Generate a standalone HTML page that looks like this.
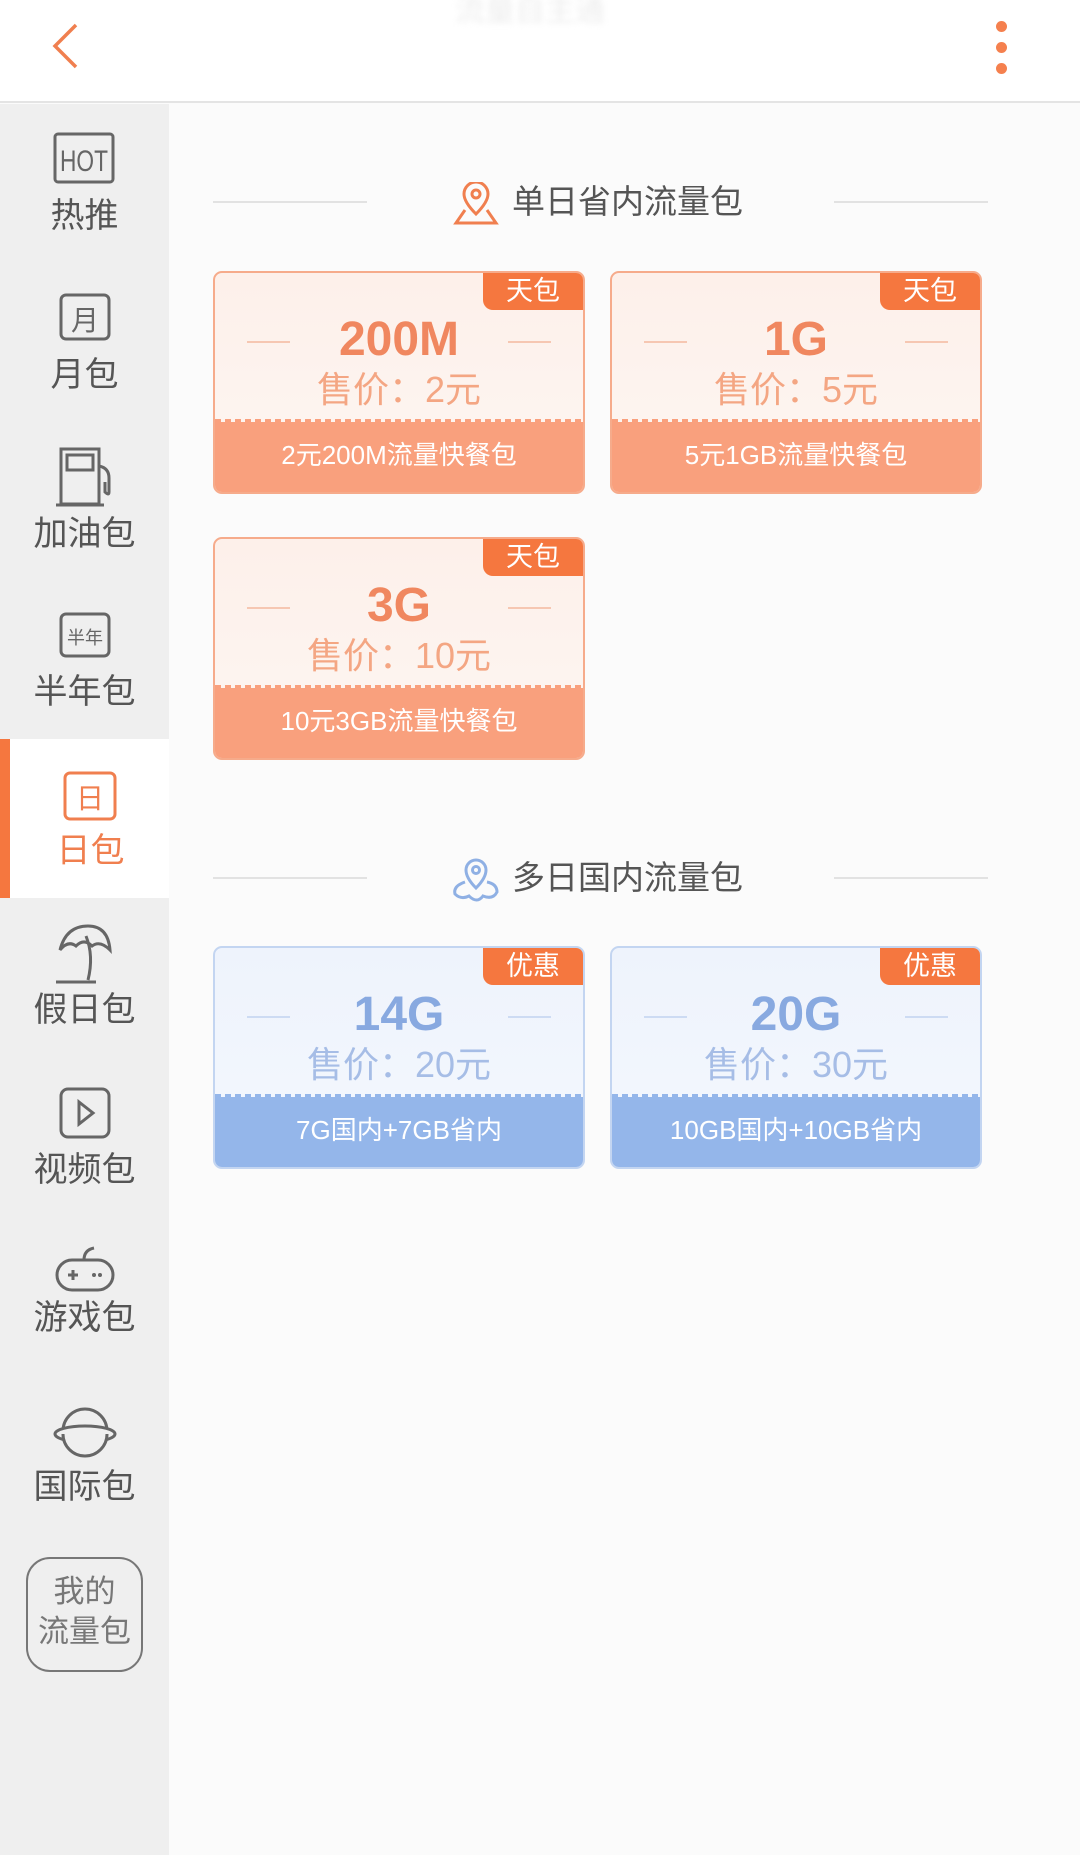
<!DOCTYPE html>
<html><head><meta charset="utf-8"><style>
*{margin:0;padding:0;box-sizing:border-box}
body{width:1080px;height:1855px;position:relative;background:#fbfbfb;font-family:"Liberation Sans","Noto Sans CJK SC",sans-serif;overflow:hidden}
.abs{position:absolute}
.hdr{left:0;top:0;width:1080px;height:103px;background:#fff;border-bottom:2px solid #e4e4e4}
.side{left:0;top:104px;width:169px;height:1751px;background:#efefef}
.lab{position:absolute;left:0;width:169px;text-align:center;font-size:34px;color:#555;line-height:38px}
.ico{position:absolute}
.sec{position:absolute;left:213px;width:775px;height:40px}
.sec .l{position:absolute;top:19px;width:154px;height:2px;background:#e2e2e2}
.sec .t{position:absolute;left:299px;top:0;font-size:33px;color:#555;line-height:40px}
.card{position:absolute;width:372px;height:223px;border-radius:9px;overflow:hidden}
.card .band{position:absolute;left:0;bottom:0;width:100%;height:70px;color:#fff;font-size:26px;text-align:center;line-height:66px}
.card .band:before{content:"";position:absolute;left:0;top:-3px;width:100%;height:4px;background:repeating-linear-gradient(90deg,var(--b) 0 6px,transparent 6px 10px)}
.card .tag{position:absolute;right:0;top:0;width:100px;height:37px;border-bottom-left-radius:10px;color:#fff;font-size:27px;text-align:center;line-height:36px}
.card .big{position:absolute;left:0;width:100%;top:40px;text-align:center;font-size:48px;font-weight:bold;line-height:54px}
.card .pr{position:absolute;left:0;width:100%;top:96px;text-align:center;font-size:36px;line-height:42px}
.card .d{position:absolute;top:68px;width:43px;height:2px}
.o{border:2px solid #f6ab8b;background:linear-gradient(#fdf0ea,#fdf6f2);--b:#f9a07d}
.o .band{background:#f9a07d}.o .tag{background:#f5773f}.o .big{color:#f0875f}.o .pr{color:#f4a683}.o .d{background:#f6c7b2}
.b{border:2px solid #c3d5f1;background:linear-gradient(#eef3fc,#f4f8fe);--b:#94b6ea}
.b .band{background:#94b6ea}.b .tag{background:#f5773f}.b .big{color:#88a9e0}.b .pr{color:#a6bde6}.b .d{background:#cddbf3}
</style></head><body>
<div class="abs hdr"></div>
<div class="abs" style="left:380px;top:-14px;width:300px;text-align:center;font-size:30px;color:#eee;filter:blur(3px)">流量自主通</div>
<svg class="abs" style="left:48px;top:22px" width="34" height="48"><polyline points="28,3 7,24 28,45" fill="none" stroke="#f07f4f" stroke-width="3.5"/></svg>
<div class="abs" style="left:996px;top:21px;width:11px;height:11px;border-radius:50%;background:#f5804e"></div>
<div class="abs" style="left:996px;top:42px;width:11px;height:11px;border-radius:50%;background:#f5804e"></div>
<div class="abs" style="left:996px;top:63px;width:11px;height:11px;border-radius:50%;background:#f5804e"></div>

<div class="abs side"></div>
<div class="abs" style="left:0;top:739px;width:169px;height:159px;background:#fff"></div>
<div class="abs" style="left:0;top:739px;width:10px;height:159px;background:#f5773f"></div>

<svg class="ico" style="left:53px;top:130px" width="64" height="56"><rect x="2" y="4" width="58" height="48" rx="3" fill="none" stroke="#666" stroke-width="3"/><text x="31" y="41" font-size="30" text-anchor="middle" fill="#666" font-family="Liberation Sans Narrow, Liberation Sans" textLength="48" lengthAdjust="spacingAndGlyphs">HOT</text></svg>
<div class="lab" style="top:197px">热推</div>
<svg class="ico" style="left:58px;top:290px" width="54" height="56"><rect x="3" y="5" width="48" height="44" rx="5" fill="none" stroke="#666" stroke-width="3"/><text x="27" y="40" font-size="28" text-anchor="middle" fill="#666">月</text></svg>
<div class="lab" style="top:356px">月包</div>
<svg class="ico" style="left:56px;top:446px" width="60" height="62"><rect x="5" y="3" width="38" height="55" fill="none" stroke="#666" stroke-width="3"/><rect x="11" y="9" width="26" height="15" fill="none" stroke="#666" stroke-width="3"/><path d="M43 20 q10 2 10 12 v14 q0 4 -4 0 v-10" fill="none" stroke="#666" stroke-width="3"/><line x1="0" y1="59" x2="48" y2="59" stroke="#666" stroke-width="3"/></svg>
<div class="lab" style="top:515px">加油包</div>
<svg class="ico" style="left:58px;top:610px" width="54" height="50"><rect x="3" y="4" width="48" height="42" rx="5" fill="none" stroke="#666" stroke-width="3"/><text x="27" y="34" font-size="18" text-anchor="middle" fill="#666">半年</text></svg>
<div class="lab" style="top:673px">半年包</div>
<svg class="ico" style="left:62px;top:768px" width="56" height="56"><rect x="3" y="5" width="50" height="46" rx="5" fill="none" stroke="#f07f4f" stroke-width="3"/><text x="28" y="40" font-size="28" text-anchor="middle" fill="#f07f4f">日</text></svg>
<div class="lab" style="top:832px;left:6px;color:#f07f4f">日包</div>
<svg class="ico" style="left:52px;top:922px" width="64" height="62"><path d="M8 28 q6 -24 28 -24 q20 0 22 24 q-10 -10 -18 -4 q-8 -8 -16 0 q-8 -6 -16 4z" fill="none" stroke="#666" stroke-width="3"/><path d="M34 14 q8 20 2 44" fill="none" stroke="#666" stroke-width="3"/><line x1="4" y1="60" x2="44" y2="60" stroke="#666" stroke-width="3"/></svg>
<div class="lab" style="top:991px">假日包</div>
<svg class="ico" style="left:58px;top:1086px" width="54" height="54"><rect x="3" y="3" width="48" height="48" rx="7" fill="none" stroke="#666" stroke-width="3"/><polygon points="21,16 35,27 21,38" fill="none" stroke="#666" stroke-width="3"/></svg>
<div class="lab" style="top:1151px">视频包</div>
<svg class="ico" style="left:54px;top:1246px" width="62" height="48"><path d="M30 14 q0 -10 10 -12" fill="none" stroke="#666" stroke-width="3"/><rect x="3" y="14" width="56" height="30" rx="15" fill="none" stroke="#666" stroke-width="3"/><path d="M14 29h10M19 24v10" stroke="#666" stroke-width="3"/><circle cx="40" cy="29" r="2" fill="#666"/><circle cx="46" cy="29" r="2" fill="#666"/></svg>
<div class="lab" style="top:1299px">游戏包</div>
<svg class="ico" style="left:52px;top:1404px" width="66" height="54"><circle cx="33" cy="27" r="22" fill="none" stroke="#666" stroke-width="3"/><ellipse cx="33" cy="30" rx="30" ry="8" fill="#efefef" stroke="#666" stroke-width="3"/><path d="M11 30 a22 22 0 0 0 44 0" fill="#efefef" stroke="#666" stroke-width="3"/></svg>
<div class="lab" style="top:1468px">国际包</div>
<div class="abs" style="left:26px;top:1557px;width:117px;height:115px;border:2px solid #777;border-radius:24px"></div>
<div class="lab" style="top:1572px;color:#777;font-size:31px;line-height:40px">我的<br>流量包</div>

<div class="sec" style="top:182px"><div class="l" style="left:0"></div><div class="l" style="left:621px"></div>
<svg style="position:absolute;left:240px;top:0" width="46" height="44"><path d="M23 32 q-12 -12 -12 -20 a12 12 0 0 1 24 0 q0 8 -12 20z" fill="none" stroke="#f07f4f" stroke-width="3"/><circle cx="23" cy="12" r="4" fill="none" stroke="#f07f4f" stroke-width="3"/><path d="M12 28 l-9 13 h40 l-9 -13" fill="none" stroke="#f07f4f" stroke-width="3"/></svg>
<div class="t">单日省内流量包</div></div>

<div class="card o" style="left:213px;top:271px"><div class="tag">天包</div><div class="d" style="left:32px"></div><div class="d" style="right:32px"></div><div class="big">200M</div><div class="pr">售价：2元</div><div class="band">2元200M流量快餐包</div></div>
<div class="card o" style="left:610px;top:271px"><div class="tag">天包</div><div class="d" style="left:32px"></div><div class="d" style="right:32px"></div><div class="big">1G</div><div class="pr">售价：5元</div><div class="band">5元1GB流量快餐包</div></div>
<div class="card o" style="left:213px;top:537px"><div class="tag">天包</div><div class="d" style="left:32px"></div><div class="d" style="right:32px"></div><div class="big">3G</div><div class="pr">售价：10元</div><div class="band">10元3GB流量快餐包</div></div>

<div class="sec" style="top:858px"><div class="l" style="left:0"></div><div class="l" style="left:621px"></div>
<svg style="position:absolute;left:238px;top:0" width="50" height="46"><path d="M25 30 q-10 -10 -10 -18 a10 10 0 0 1 20 0 q0 8 -10 18z" fill="none" stroke="#8fb0e4" stroke-width="3"/><circle cx="25" cy="12" r="3.5" fill="none" stroke="#8fb0e4" stroke-width="3"/><path d="M14 24 q-12 4 -10 12 q6 6 14 2 q8 8 14 0 q10 4 14 -4 q0 -8 -10 -10" fill="none" stroke="#8fb0e4" stroke-width="3"/></svg>
<div class="t">多日国内流量包</div></div>

<div class="card b" style="left:213px;top:946px"><div class="tag">优惠</div><div class="d" style="left:32px"></div><div class="d" style="right:32px"></div><div class="big">14G</div><div class="pr">售价：20元</div><div class="band">7G国内+7GB省内</div></div>
<div class="card b" style="left:610px;top:946px"><div class="tag">优惠</div><div class="d" style="left:32px"></div><div class="d" style="right:32px"></div><div class="big">20G</div><div class="pr">售价：30元</div><div class="band">10GB国内+10GB省内</div></div>
</body></html>
